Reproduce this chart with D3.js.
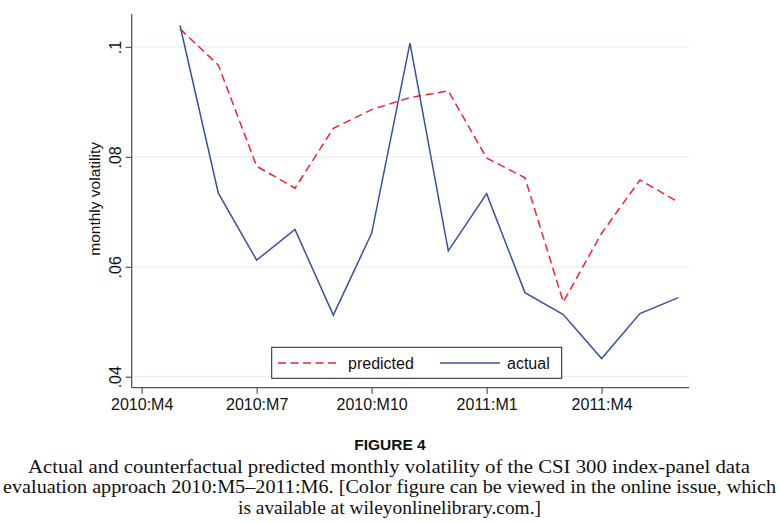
<!DOCTYPE html>
<html>
<head>
<meta charset="utf-8">
<script src="https://cdn.jsdelivr.net/npm/d3@7"></script>
<style>
  body { margin: 0; background: #fff; }
  svg { display: block; }
</style>
</head>
<body>
<div id="chart"></div>
<script>
// months 2010:M5 .. 2011:M6, indexed from 2010:M4 = 0
const monthIndex = [1, 2, 3, 4, 5, 6, 7, 8, 9, 10, 11, 12, 13, 14];
const actual = [0.1039, 0.0734, 0.0612, 0.0668, 0.0512, 0.0661, 0.1007, 0.0629,
                0.0733, 0.0553, 0.0513, 0.0433, 0.0515, 0.0544];
const predicted = [0.1033, 0.0967, 0.0783, 0.0743, 0.0852, 0.0886, 0.0908, 0.0920,
                   0.0798, 0.0762, 0.0536, 0.0661, 0.0758, 0.0718];
const xTickIdx = [0, 3, 6, 9, 12];
const xTickLabels = ['2010:M4', '2010:M7', '2010:M10', '2011:M1', '2011:M4'];
const yTicks = [0.04, 0.06, 0.08, 0.1];
const yTickLabels = ['.04', '.06', '.08', '.1'];
const captionLines = [
    'Actual and counterfactual predicted monthly volatility of the CSI 300 index-panel data',
    'evaluation approach 2010:M5\u20132011:M6. [Color figure can be viewed in the online issue, which',
    'is available at wileyonlinelibrary.com.]'
];

const width = 780, height = 523;
const plot = { left: 131.7, right: 689, top: 14, bottom: 387.7 };

const svg = d3.select('#chart').append('svg')
    .attr('width', width)
    .attr('height', height)
    .style('font-family', '"Liberation Sans", Arial, sans-serif');

const x = d3.scaleLinear().domain([-0.26, 14.28]).range([plot.left, plot.right]);
const y = d3.scaleLinear().domain([0.038, 0.106]).range([plot.bottom, plot.top]);

// gridlines
svg.append('g')
    .selectAll('line')
    .data(yTicks)
    .join('line')
    .attr('x1', plot.left).attr('x2', plot.right)
    .attr('y1', d => y(d)).attr('y2', d => y(d))
    .attr('stroke', '#e8f1f3')
    .attr('stroke-width', 1.2);

// y axis
const yAxis = svg.append('g')
    .attr('transform', `translate(${plot.left},0)`)
    .call(d3.axisLeft(y).tickValues(yTicks).tickSize(6).tickFormat((d, i) => yTickLabels[i]));
yAxis.select('.domain').attr('d', `M0,${plot.top}V${plot.bottom}`).attr('stroke', '#555').attr('stroke-width', 1.3);
yAxis.selectAll('.tick line').attr('stroke', '#555').attr('stroke-width', 1.2);
yAxis.selectAll('.tick text')
    .attr('x', null).attr('dy', null)
    .attr('transform', 'translate(-11,0) rotate(-90)')
    .attr('text-anchor', 'middle')
    .attr('fill', '#111')
    .style('font-size', '16px')
    .style('font-family', '"Liberation Sans", Arial, sans-serif');

// x axis
const xAxis = svg.append('g')
    .attr('transform', `translate(0,${plot.bottom})`)
    .call(d3.axisBottom(x).tickValues(xTickIdx).tickSize(6).tickFormat((d, i) => xTickLabels[i]));
xAxis.select('.domain').attr('d', `M${plot.left},0H${plot.right}`).attr('stroke', '#555').attr('stroke-width', 1.3);
xAxis.selectAll('.tick line').attr('stroke', '#555').attr('stroke-width', 1.2);
xAxis.selectAll('.tick text')
    .attr('y', 11).attr('dy', '0.71em')
    .attr('fill', '#111')
    .style('font-size', '16px')
    .style('font-family', '"Liberation Sans", Arial, sans-serif');

// y title, centred on the plot region
svg.append('text')
    .attr('transform', `translate(99.5,${(plot.top + plot.bottom) / 2 - 2}) rotate(-90)`)
    .attr('text-anchor', 'middle')
    .style('font-size', '15.5px')
    .attr('fill', '#111')
    .text('monthly volatility');

// series
const line = d3.line().x(d => x(d[0])).y(d => y(d[1]));

svg.append('path')
    .datum(monthIndex.map((m, i) => [m, predicted[i]]))
    .attr('d', line)
    .attr('fill', 'none')
    .attr('stroke', '#f0242c')
    .attr('stroke-width', 1.5)
    .attr('stroke-dasharray', '8,4.5');

svg.append('path')
    .datum(monthIndex.map((m, i) => [m, actual[i]]))
    .attr('d', line)
    .attr('fill', 'none')
    .attr('stroke', '#3a4fa0')
    .attr('stroke-width', 1.5);

// legend
const legend = svg.append('g');
legend.append('rect')
    .attr('x', 271.7).attr('y', 347.3)
    .attr('width', 290).attr('height', 31)
    .attr('fill', '#fff')
    .attr('stroke', '#222')
    .attr('stroke-width', 1);
legend.append('line')
    .attr('x1', 278).attr('x2', 340).attr('y1', 363).attr('y2', 363)
    .attr('stroke', '#f0242c').attr('stroke-width', 1.5).attr('stroke-dasharray', '8,4.5');
legend.append('text')
    .attr('x', 348).attr('y', 369)
    .style('font-size', '16px').attr('fill', '#111')
    .text('predicted');
legend.append('line')
    .attr('x1', 440).attr('x2', 500).attr('y1', 363).attr('y2', 363)
    .attr('stroke', '#3a4fa0').attr('stroke-width', 1.5);
legend.append('text')
    .attr('x', 507).attr('y', 369)
    .style('font-size', '16px').attr('fill', '#111')
    .text('actual');

// caption
svg.append('text')
    .attr('x', 390).attr('y', 450)
    .attr('text-anchor', 'middle')
    .style('font-family', '"Liberation Sans", Arial, sans-serif')
    .style('font-weight', 'bold')
    .style('font-size', '15.5px')
    .attr('fill', '#111')
    .text('FIGURE 4');

const capY = [473, 493, 514];
const capX = [[28, 750], [3, 776], [238, 541]];
svg.append('g')
    .selectAll('text')
    .data(captionLines)
    .join('text')
    .attr('x', (d, i) => capX[i][0])
    .attr('y', (d, i) => capY[i])
    .attr('textLength', (d, i) => capX[i][1] - capX[i][0])
    .attr('lengthAdjust', 'spacingAndGlyphs')
    .style('font-family', '"Liberation Serif", "Times New Roman", serif')
    .style('font-size', '19px')
    .attr('fill', '#111')
    .text(d => d);
</script>
</body>
</html>
